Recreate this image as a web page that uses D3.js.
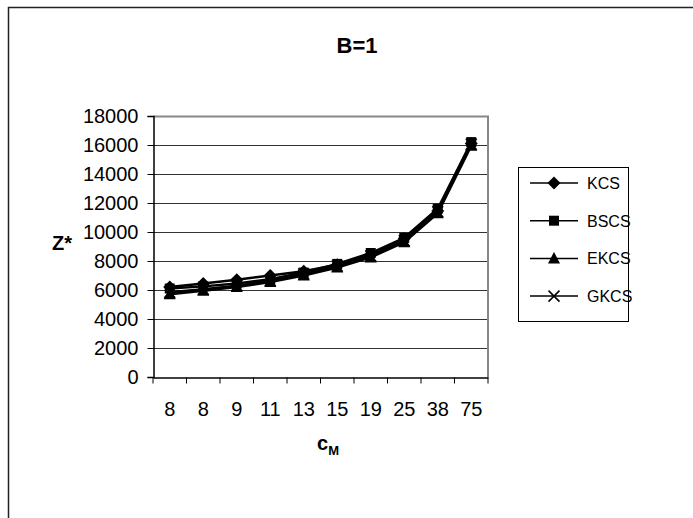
<!DOCTYPE html>
<html>
<head>
<meta charset="utf-8">
<script src="https://cdn.jsdelivr.net/npm/d3@7"></script>
<style>
body { margin: 0; background: #fff; }
text { font-family: "Liberation Sans", Arial, sans-serif; fill: #000; }
</style>
</head>
<body>
<svg id="chart" width="693" height="518"></svg>
<script>
const categories = ['8', '8', '9', '11', '13', '15', '19', '25', '38', '75'];
const kcs  = [6200, 6450, 6700, 7000, 7300, 7750, 8450, 9550, 11450, 16100];
const bscs = [6100, 6250, 6450, 6750, 7200, 7800, 8550, 9600, 11600, 16200];
const ekcs = [5700, 5950, 6200, 6550, 7000, 7550, 8250, 9300, 11300, 15950];
const gkcs = [5850, 6050, 6300, 6650, 7100, 7650, 8350, 9400, 11400, 16050];
const seriesNames = ['KCS', 'BSCS', 'EKCS', 'GKCS'];
const yTicks = [0, 2000, 4000, 6000, 8000, 10000, 12000, 14000, 16000, 18000];

const series = [kcs, bscs, ekcs, gkcs];
const shapes = ['diamond', 'square', 'triangle', 'cross'];

const plot = { left: 153, right: 488, top: 116, bottom: 377 };

const svg = d3.select('#chart');

// outer chart frame
svg.append('rect')
    .attr('x', 8.5).attr('y', 7.5)
    .attr('width', 700).attr('height', 530)
    .attr('fill', '#fff')
    .attr('stroke', '#222').attr('stroke-width', 1.5);

const x = d3.scaleBand()
    .domain(d3.range(categories.length))
    .range([plot.left, plot.right]);

const y = d3.scaleLinear()
    .domain([0, 18000])
    .range([plot.bottom, plot.top]);

// gridlines
svg.append('g')
    .selectAll('line')
    .data(yTicks.slice(1))
    .join('line')
    .attr('x1', plot.left).attr('x2', plot.right)
    .attr('y1', d => Math.round(y(d)) + 0.5).attr('y2', d => Math.round(y(d)) + 0.5)
    .attr('stroke', '#333').attr('stroke-width', 1);

// plot area border (top / right in grey)
svg.append('path')
    .attr('d', `M${plot.left},${plot.top + 0.5}H${plot.right}V${plot.bottom}`)
    .attr('fill', 'none')
    .attr('stroke', '#888').attr('stroke-width', 2);

// y axis
const yAxis = svg.append('g')
    .attr('transform', `translate(${plot.left + 0.5},0)`)
    .call(d3.axisLeft(y).tickValues(yTicks).tickSize(6).tickPadding(9).tickFormat(d3.format('d')));
yAxis.select('.domain').attr('stroke', '#000').attr('stroke-width', 1.5);
yAxis.selectAll('.tick line').attr('stroke', '#000');
yAxis.selectAll('.tick text')
    .style('font-size', '20px')
    .attr('fill', '#000');

// x axis: labels centred, ticks on category boundaries
const xAxis = svg.append('g')
    .attr('transform', `translate(0,${plot.bottom + 0.5})`)
    .call(d3.axisBottom(x).tickSize(0).tickPadding(24).tickFormat(i => categories[i]));
xAxis.select('.domain').attr('stroke', '#000').attr('stroke-width', 1.5);
xAxis.selectAll('.tick text')
    .style('font-size', '20px')
    .attr('fill', '#000');

xAxis.selectAll('line.bound')
    .data(d3.range(categories.length + 1))
    .join('line')
    .attr('class', 'bound')
    .attr('x1', i => (i < categories.length ? x(i) : plot.right))
    .attr('x2', i => (i < categories.length ? x(i) : plot.right))
    .attr('y1', 0).attr('y2', 6)
    .attr('stroke', '#000');

// series
const cx = i => x(i) + x.bandwidth() / 2;
const line = d3.line()
    .x((d, i) => cx(i))
    .y(d => y(d));

function marker(g, shape, px, py) {
    let d, filled = true;
    if (shape === 'diamond') {
        d = 'M0,-6.5L6.5,0L0,6.5L-6.5,0Z';
    } else if (shape === 'square') {
        d = 'M-5,-5H5V5H-5Z';
    } else if (shape === 'triangle') {
        d = 'M0,-6.5L6,5L-6,5Z';
    } else {
        d = 'M-5.5,-5.5L5.5,5.5M-5.5,5.5L5.5,-5.5';
        filled = false;
    }
    g.append('path')
        .attr('d', d)
        .attr('transform', `translate(${px},${py})`)
        .attr('fill', filled ? '#000' : 'none')
        .attr('stroke', filled ? 'none' : '#000')
        .attr('stroke-width', 1.5);
}

series.forEach((vals, k) => {
    const g = svg.append('g');
    g.append('path')
        .datum(vals)
        .attr('d', line)
        .attr('fill', 'none')
        .attr('stroke', '#000')
        .attr('stroke-width', 2.5);
    vals.forEach((v, i) => marker(g, shapes[k], cx(i), y(v)));
});

// title
svg.append('text')
    .attr('x', 357).attr('y', 53)
    .attr('text-anchor', 'middle')
    .style('font-size', '22px').style('font-weight', 'bold')
    .text('B=1');

// axis titles
svg.append('text')
    .attr('x', 52).attr('y', 250)
    .style('font-size', '20px').style('font-weight', 'bold')
    .text('Z*');

const xt = svg.append('text')
    .attr('x', 328).attr('y', 450)
    .attr('text-anchor', 'middle')
    .style('font-size', '20px').style('font-weight', 'bold');
xt.append('tspan').text('c');
xt.append('tspan').attr('dy', 5).style('font-size', '13px').text('M');

// legend
const legend = svg.append('g');
legend.append('rect')
    .attr('x', 518.5).attr('y', 167.5)
    .attr('width', 110).attr('height', 154)
    .attr('fill', '#fff')
    .attr('stroke', '#000').attr('stroke-width', 1);

seriesNames.forEach((name, k) => {
    const ly = 183 + k * 37.7;
    const item = legend.append('g');
    item.append('line')
        .attr('x1', 530).attr('x2', 578)
        .attr('y1', ly).attr('y2', ly)
        .attr('stroke', '#000').attr('stroke-width', 1.5);
    marker(item, shapes[k], 554, ly);
    item.append('text')
        .attr('x', 587).attr('y', ly + 6)
        .style('font-size', '16px')
        .text(name);
});
</script>
</body>
</html>
